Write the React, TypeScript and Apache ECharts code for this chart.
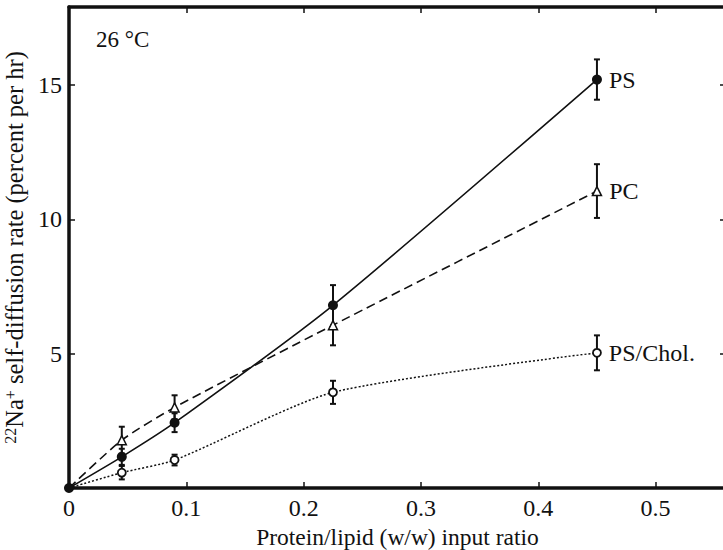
import React, { useEffect, useRef } from "react";
import * as echarts from "echarts";

const xVals = [0, 0.045, 0.09, 0.225, 0.45];
const psVals = [0, 1.16, 2.43, 6.8, 15.2];
const psErr = [0, 0.3, 0.35, 0.75, 0.75];
const pcVals = [0, 1.78, 3.0, 6.06, 11.05];
const pcErr = [0, 0.5, 0.45, 0.75, 1.0];
const cholVals = [0, 0.57, 1.04, 3.56, 5.03];
const cholErr = [0, 0.25, 0.2, 0.43, 0.65];
const seriesNames = ["PS", "PC", "PS/Chol."];
const xTicks = [0, 0.1, 0.2, 0.3, 0.4, 0.5];
const yTicks = [5, 10, 15];

const FONT = '"Liberation Serif", "Times New Roman", serif';

export default function App() {
  const ref = useRef<HTMLDivElement>(null);
  useEffect(() => {
    if (!ref.current) return;
    const chart = echarts.init(ref.current, undefined, { renderer: "svg" });

    const isTick = (v: number, list: number[]) => list.some((t) => Math.abs(t - v) < 1e-6);
    const xFmt = (v: number) => (isTick(v, xTicks) ? (v === 0 ? "0" : v.toFixed(1)) : "");
    const yFmt = (v: number) => (isTick(v, yTicks) ? String(v) : "");

    const lineData = (vals: number[], hideFirst: boolean, name: string) =>
      xVals.map((x, i) => {
        const item: any = { value: [x, vals[i]] };
        if (i === 0 && hideFirst) item.symbol = "none";
        if (i === xVals.length - 1) {
          item.label = {
            show: true,
            position: "right",
            distance: 7,
            formatter: name,
            color: "#111",
            fontFamily: FONT,
            fontSize: 24,
          };
        }
        return item;
      });

    const errData = (vals: number[], errs: number[]) =>
      xVals.map((x, i) => [x, vals[i], errs[i]]);

    const errSeries = (vals: number[], errs: number[]) => ({
      type: "custom",
      z: 1,
      data: errData(vals, errs),
      renderItem: (params: any, api: any) => {
        const x = api.value(0);
        const y = api.value(1);
        const e = api.value(2);
        if (!e) return null;
        const top = api.coord([x, y + e]);
        const bot = api.coord([x, y - e]);
        const st = { stroke: "#111", lineWidth: 2 };
        return {
          type: "group",
          children: [
            { type: "line", shape: { x1: top[0], y1: top[1], x2: bot[0], y2: bot[1] }, style: st },
            { type: "line", shape: { x1: top[0] - 3, y1: top[1], x2: top[0] + 3, y2: top[1] }, style: st },
            { type: "line", shape: { x1: bot[0] - 3, y1: bot[1], x2: bot[0] + 3, y2: bot[1] }, style: st },
          ],
        };
      },
    });

    const axisLine = { show: true, onZero: false, lineStyle: { color: "#111", width: 3.5 } };
    const tickStyle = { show: true, inside: true, length: 6, lineStyle: { color: "#111", width: 1.5 } };

    chart.setOption({
      animation: false,
      backgroundColor: "#fff",
      grid: {
        left: 69,
        top: 7,
        right: -3,
        bottom: 62,
        containLabel: false,
        outerBoundsMode: "none",
      },
      xAxis: [
        {
          type: "value",
          min: 0,
          max: 0.56,
          interval: 0.1,
          position: "bottom",
          axisLine,
          axisTick: tickStyle,
          splitLine: { show: false },
          axisLabel: { formatter: xFmt, color: "#111", fontFamily: FONT, fontSize: 24, margin: 8 },
          name: "Protein/lipid (w/w) input ratio",
          nameLocation: "middle",
          nameGap: 31,
          nameTextStyle: { color: "#111", fontFamily: FONT, fontSize: 23.5, lineHeight: 24 },
        },
        {
          type: "value",
          min: 0,
          max: 0.56,
          interval: 0.1,
          position: "top",
          axisLine,
          axisTick: tickStyle,
          splitLine: { show: false },
          axisLabel: { show: false },
        },
      ],
      yAxis: [
        {
          type: "value",
          min: 0,
          max: 17.9,
          interval: 5,
          position: "left",
          axisLine,
          axisTick: tickStyle,
          splitLine: { show: false },
          axisLabel: { formatter: yFmt, color: "#111", fontFamily: FONT, fontSize: 24, margin: 7 },
          name: "{sup|22}Na{sup|+} self-diffusion rate (percent per hr)",
          nameLocation: "middle",
          nameRotate: 90,
          nameGap: 36,
          nameTextStyle: {
            color: "#111",
            fontFamily: FONT,
            fontSize: 24.5,
            rich: {
              sup: { fontSize: 16, fontFamily: FONT, color: "#111", verticalAlign: "top", padding: [0, 0, 8, 0] },
            },
          },
        },
        {
          type: "value",
          min: 0,
          max: 17.9,
          interval: 5,
          position: "right",
          axisLine,
          axisTick: tickStyle,
          splitLine: { show: false },
          axisLabel: { show: false },
        },
      ],
      graphic: [
        {
          type: "text",
          x: 96,
          y: 39,
          style: {
            text: "26 °C",
            fill: "#111",
            font: `23px ${FONT}`,
            textVerticalAlign: "middle",
          },
        },
      ],
      series: [
        errSeries(cholVals, cholErr),
        errSeries(pcVals, pcErr),
        errSeries(psVals, psErr),
        {
          name: seriesNames[2],
          type: "line",
          z: 3,
          smooth: 0.22,
          data: lineData(cholVals, true, seriesNames[2]),
          symbol: "circle",
          symbolSize: 8,
          itemStyle: { color: "#fff", borderColor: "#111", borderWidth: 1.8 },
          lineStyle: { color: "#111", width: 1.5, type: [2, 2] },
        },
        {
          name: seriesNames[1],
          type: "line",
          z: 3,
          smooth: 0.22,
          data: lineData(pcVals, true, seriesNames[1]),
          symbol: "triangle",
          symbolSize: 9,
          itemStyle: { color: "#fff", borderColor: "#111", borderWidth: 1.5 },
          lineStyle: { color: "#111", width: 1.6, type: [9, 5] },
        },
        {
          name: seriesNames[0],
          type: "line",
          z: 4,
          smooth: 0.22,
          data: lineData(psVals, false, seriesNames[0]),
          symbol: "circle",
          symbolSize: 10,
          itemStyle: { color: "#111", borderColor: "#111", borderWidth: 0 },
          lineStyle: { color: "#111", width: 1.6 },
        },
      ],
    });
    return () => chart.dispose();
  }, []);

  return (
    <div
      ref={ref}
      style={{ position: "fixed", left: 0, top: 0, width: 723, height: 550, background: "#fff" }}
    />
  );
}
